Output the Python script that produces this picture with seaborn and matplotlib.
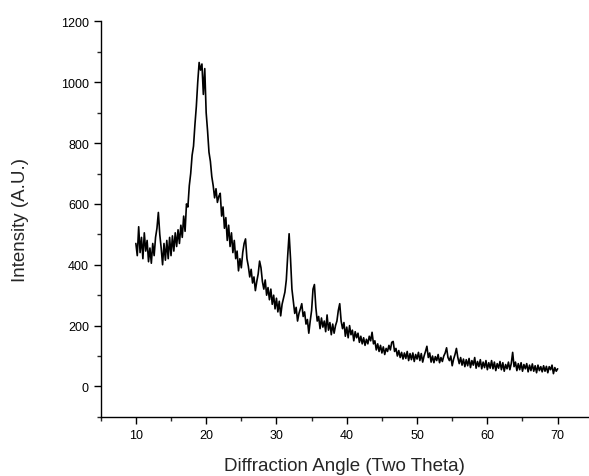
import numpy as np
import pandas as pd
import matplotlib
matplotlib.use("Agg")
import matplotlib.pyplot as plt
import seaborn as sns
from matplotlib.ticker import MultipleLocator

# XRD scan, 0.2 deg steps
step = 0.2
intensity_10_20 = [470, 430, 525, 440, 490, 420, 505, 445, 480, 410,
                   455, 405, 470, 430, 490, 520, 572, 500, 455, 400,
                   470, 415, 480, 420, 490, 430, 495, 445, 505, 460,
                   515, 470, 530, 490, 560, 510, 600, 590, 660, 700,
                   760, 790, 860, 920, 1000, 1065, 1040, 1060, 960, 1045]
intensity_20_30 = [900, 840, 770, 740, 690, 660, 620, 650, 605, 625,
                   635, 560, 590, 520, 555, 480, 530, 460, 505, 440,
                   480, 420, 445, 380, 420, 390, 440, 470, 485, 420,
                   395, 360, 385, 340, 360, 315, 345, 370, 412, 390,
                   345, 320, 350, 300, 325, 285, 320, 270, 300, 255]
intensity_30_40 = [290, 245, 280, 232, 270, 290, 310, 350, 430, 502,
                   420, 320, 280, 240, 260, 215, 240, 255, 272, 230,
                   245, 205, 220, 175, 215, 250, 320, 335, 260, 215,
                   230, 190, 225, 195, 215, 180, 235, 185, 210, 170,
                   205, 175, 200, 215, 250, 272, 215, 190, 210, 165]
intensity_40_50 = [195, 160, 200, 170, 185, 150, 180, 160, 175, 145,
                   165, 140, 160, 135, 155, 140, 165, 150, 178, 140,
                   150, 120, 140, 115, 135, 110, 130, 105, 125, 115,
                   135, 120, 145, 148, 115, 125, 100, 118, 95, 112,
                   90, 110, 92, 115, 85, 108, 88, 110, 82, 105]
intensity_50_60 = [90, 112, 85, 108, 80, 100, 115, 132, 95, 110,
                   80, 100, 78, 98, 85, 105, 78, 95, 82, 100,
                   110, 127, 95, 85, 100, 68, 90, 105, 125, 95,
                   75, 95, 70, 90, 65, 88, 68, 92, 62, 85,
                   70, 95, 60, 82, 65, 88, 58, 80, 62, 85]
intensity_60_70 = [55, 78, 60, 85, 58, 80, 52, 75, 60, 82,
                   55, 78, 50, 72, 58, 80, 55, 75, 112, 65,
                   80, 52, 75, 55, 78, 50, 72, 58, 75, 48,
                   70, 52, 74, 50, 68, 45, 70, 52, 65, 48,
                   68, 50, 66, 45, 65, 55, 70, 42, 62, 50, 58]

segments = [(10, intensity_10_20), (20, intensity_20_30), (30, intensity_30_40),
            (40, intensity_40_50), (50, intensity_50_60), (60, intensity_60_70)]
angle, intensity = [], []
for start, vals in segments:
    angle += [round(start + i * step, 1) for i in range(len(vals))]
    intensity += vals
df = pd.DataFrame({"angle": angle, "intensity": intensity})

sns.set_style("ticks")
plt.rcParams["font.family"] = ["Liberation Sans", "DejaVu Sans"]

fig = plt.figure(figsize=(5.89, 4.77), dpi=100)
ax = fig.add_axes([0.171, 0.124, 0.829, 0.829])
sns.lineplot(data=df, x="angle", y="intensity", color="black", linewidth=1.2, ax=ax)

ax.set_xlim(5, 74.46)
ax.set_ylim(-100, 1200)
ax.xaxis.set_major_locator(MultipleLocator(10))
ax.xaxis.set_minor_locator(MultipleLocator(5))
ax.yaxis.set_major_locator(MultipleLocator(200))
ax.yaxis.set_minor_locator(MultipleLocator(100))
ax.tick_params(which="major", direction="out", length=5, width=1, labelsize=9, colors="black")
ax.tick_params(which="minor", direction="out", length=3, width=1)
for side in ["left", "bottom"]:
    ax.spines[side].set_linewidth(1)
    ax.spines[side].set_color("black")
sns.despine(ax=ax)

ax.set_xlabel("Diffraction Angle (Two Theta)", fontsize=13.5, labelpad=12)
ax.set_ylabel("Intensity (A.U.)", fontsize=13.5, labelpad=23)

fig.savefig("out.png", dpi=100)
